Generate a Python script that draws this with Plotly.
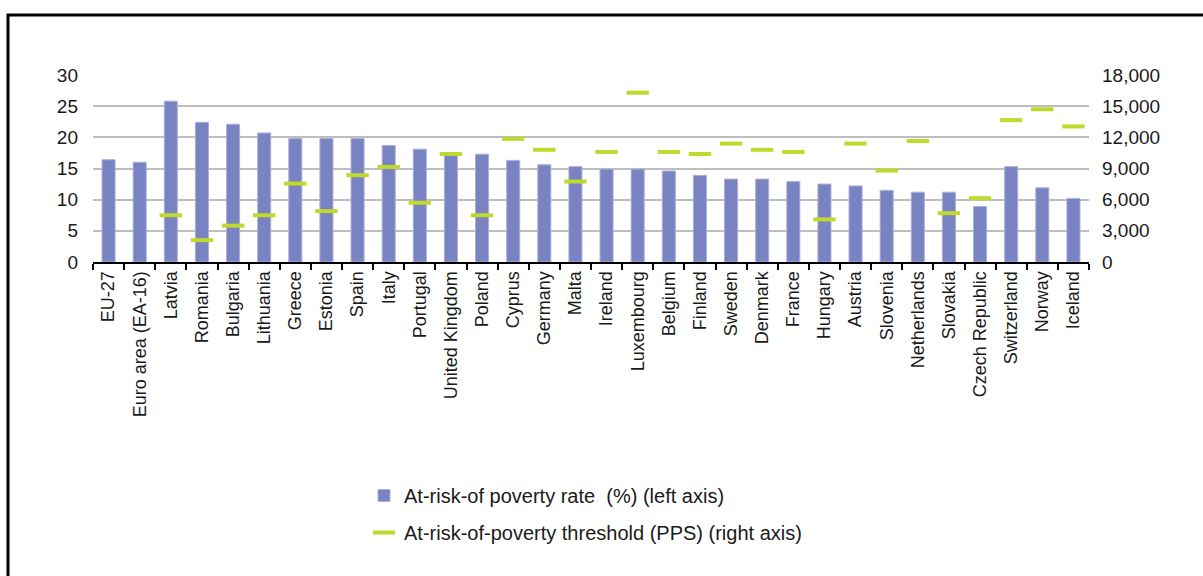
"""
At-risk-of-poverty rate (bars, left axis) and threshold in PPS (dashes, right axis).
"""
import plotly.graph_objs as go

paises = [
    "EU-27", "Euro area (EA-16)", "Latvia", "Romania", "Bulgaria", "Lithuania",
    "Greece", "Estonia", "Spain", "Italy", "Portugal", "United Kingdom", "Poland",
    "Cyprus", "Germany", "Malta", "Ireland", "Luxembourg", "Belgium", "Finland",
    "Sweden", "Denmark", "France", "Hungary", "Austria", "Slovenia", "Netherlands",
    "Slovakia", "Czech Republic", "Switzerland", "Norway", "Iceland",
]

taxa_pobreza = [
    16.4, 16.0, 25.8, 22.4, 22.1, 20.7, 19.8, 19.8, 19.8, 18.7, 18.1, 17.3, 17.3,
    16.3, 15.6, 15.3, 14.9, 14.9, 14.6, 13.9, 13.3, 13.3, 12.9, 12.5, 12.2, 11.5,
    11.2, 11.2, 8.9, 15.3, 11.9, 10.2,
]

limiar_pps = [
    None, None, 4500, 2100, 3500, 4500, 7550, 4900, 8350, 9150, 5700, 10400, 4500,
    11850, 10800, 7750, 10600, 16300, 10600, 10400, 11400, 10800, 10600, 4100,
    11400, 8800, 11650, 4700, 6150, 13650, 14700, 13050,
]

W, H = 1203, 576
ML, MR, MT, MB = 93, 114, 75, 314
plot_w = W - ML - MR
plot_h = H - MT - MB


def px_x(p):
    return (p - ML) / plot_w


def px_y(p):
    return (H - MB - p) / plot_h


fonte = dict(family="Liberation Sans, Arial, sans-serif", size=19, color="#1a1a1a")

fig = go.Figure()
fig.add_trace(go.Bar(
    x=paises,
    y=taxa_pobreza,
    name="At-risk-of poverty rate  (%) (left axis)",
    marker=dict(color="#7983C1", line=dict(color="#A9B0DC", width=1)),
    legendgroup="a",
))
fig.add_trace(go.Scatter(
    x=paises,
    y=limiar_pps,
    name="At-risk-of-poverty threshold (PPS) (right axis)",
    mode="markers",
    marker=dict(symbol="line-ew", size=16, line=dict(color="#BFDA2B", width=4)),
    yaxis="y2",
    legendgroup="b",
))

# moldura preta em volta da figura (sai pela direita e por baixo)
fig.add_shape(
    type="rect", xref="paper", yref="paper",
    x0=px_x(8), x1=px_x(W + 20), y0=px_y(H + 20), y1=px_y(15),
    line=dict(color="black", width=3), fillcolor="rgba(0,0,0,0)", layer="above",
)

fig.update_layout(
    width=W,
    height=H,
    margin=dict(l=ML, r=MR, t=MT, b=MB),
    plot_bgcolor="white",
    paper_bgcolor="white",
    font=fonte,
    bargap=0.58,
    showlegend=True,
    legend=dict(
        x=px_x(364), y=px_y(476), xanchor="left", yanchor="top",
        orientation="v", traceorder="grouped", tracegroupgap=8,
        itemwidth=30, font=dict(fonte, size=20), bgcolor="rgba(0,0,0,0)",
    ),
    xaxis=dict(
        type="category",
        tickangle=-90,
        tickfont=dict(size=18),
        ticks="outside",
        tickson="boundaries",
        ticklen=6,
        tickcolor="black",
        tickwidth=1.5,
        showline=True,
        linecolor="black",
        linewidth=2,
        showgrid=False,
        range=[-0.5, len(paises) - 0.5],
    ),
    yaxis=dict(
        range=[0, 30],
        dtick=5,
        showgrid=True,
        gridcolor="#BEBEBE",
        gridwidth=1.5,
        zeroline=False,
        showline=False,
        ticks="",
        ticklabelstandoff=14,
    ),
    yaxis2=dict(
        range=[0, 18000],
        dtick=3000,
        tickformat=",",
        overlaying="y",
        side="right",
        showgrid=False,
        zeroline=False,
        showline=False,
        ticks="",
        ticklabelstandoff=12,
    ),
)

# tira a margem da página para a figura ficar encostada ao canto
fig.write_html(
    "out.html",
    config={"displayModeBar": False},
    post_script="document.body.style.margin='0';document.body.style.overflow='hidden';",
)
